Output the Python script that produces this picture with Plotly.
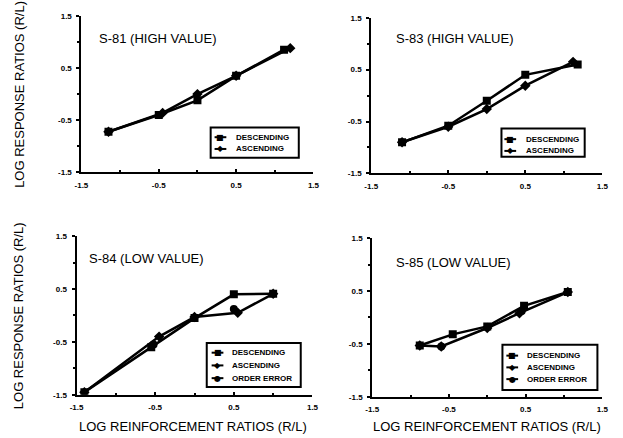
import plotly.graph_objects as go

W, H = 623, 438

tick_vals = [-1.5, -0.5, 0.5, 1.5]
tick_text = ["-1.5", "-0.5", "0.5", "1.5"]
minor_vals = [-1.0, 0.0, 1.0]

panel_titles = ["S-81 (HIGH VALUE)", "S-83 (HIGH VALUE)", "S-84 (LOW VALUE)", "S-85 (LOW VALUE)"]
series_names = ["DESCENDING", "ASCENDING", "ORDER ERROR"]

# S-81
s81_desc_x = [-1.15, -0.5, 0.0, 0.5, 1.12]
s81_desc_y = [-0.72, -0.40, -0.12, 0.35, 0.85]
s81_asc_x = [-1.15, -0.45, 0.0, 0.5, 1.20]
s81_asc_y = [-0.72, -0.36, 0.00, 0.35, 0.88]

# S-83
s83_desc_x = [-1.10, -0.5, 0.0, 0.5, 1.18]
s83_desc_y = [-0.90, -0.58, -0.10, 0.40, 0.60]
s83_asc_x = [-1.10, -0.5, 0.0, 0.5, 1.12]
s83_asc_y = [-0.90, -0.60, -0.26, 0.19, 0.65]

# S-84
s84_desc_x = [-1.40, -0.55, 0.0, 0.5, 1.0]
s84_desc_y = [-1.45, -0.60, -0.05, 0.40, 0.41]
s84_asc_x = [-1.40, -0.45, 0.0, 0.55, 1.0]
s84_asc_y = [-1.45, -0.40, -0.03, 0.05, 0.41]
s84_err_x = [-0.52, 0.50]
s84_err_y = [-0.55, 0.12]

# S-85
s85_desc_x = [-0.88, -0.45, 0.0, 0.48, 1.05]
s85_desc_y = [-0.53, -0.32, -0.17, 0.22, 0.48]
s85_asc_x = [-0.88, -0.60, 0.0, 0.42, 1.05]
s85_asc_y = [-0.53, -0.55, -0.20, 0.08, 0.48]
s85_err_x = [-0.60, 0.45]
s85_err_y = [-0.55, 0.12]

FONT = "Liberation Sans, Arial, sans-serif"

# panel placement in pixels: (x0, x1, ytop, ybottom)
px = [(76, 313, 12, 172), (372, 608, 14, 173), (71, 312, 237, 399), (373, 608, 239, 401)]
title_pos = [(92, 35), (395, 35), (82, 260), (395, 264)]
# legend box (x0, y0, x1, y1), symbol x, text x, item y's
legend_boxes = [
    ((208, 126, 298, 157), 218, 232, [136, 148]),
    ((505, 127, 590, 156), 514, 528, [138, 150]),
    ((204, 346, 300, 391), 215, 228, [356, 369, 382]),
    ((506, 348, 603, 394), 516, 529, [359, 371, 383]),
]

symbols = ["square", "diamond", "circle"]
glyphs = ["\u25A0", "\u25C6", "\u25CF"]

data = [
    [(s81_desc_x, s81_desc_y), (s81_asc_x, s81_asc_y)],
    [(s83_desc_x, s83_desc_y), (s83_asc_x, s83_asc_y)],
    [(s84_desc_x, s84_desc_y), (s84_asc_x, s84_asc_y), (s84_err_x, s84_err_y)],
    [(s85_desc_x, s85_desc_y), (s85_asc_x, s85_asc_y), (s85_err_x, s85_err_y)],
]

fig = go.Figure()

layout = dict(
    width=W, height=H, margin=dict(l=0, r=0, t=0, b=0),
    paper_bgcolor="white", plot_bgcolor="white",
    font=dict(family=FONT, color="black"),
    showlegend=False,
    annotations=[], shapes=[],
)

def fx(p):
    return p / W

def fy(p):
    return 1 - p / H

for i, series in enumerate(data):
    n = "" if i == 0 else str(i + 1)
    xa, ya = "x" + n, "y" + n
    for k, (x, y) in enumerate(series):
        fig.add_trace(go.Scatter(
            x=x, y=y, name=series_names[k],
            mode="markers" if k == 2 else "lines+markers",
            line=dict(color="black", width=2.5),
            marker=dict(symbol=symbols[k], size=8, color="black"),
            xaxis=xa, yaxis=ya,
        ))
    x0, x1, yt, yb = px[i]
    common = dict(
        range=[-1.5, 1.5], tickmode="array", tickvals=tick_vals, ticktext=tick_text,
        showline=True, linecolor="black", linewidth=2, showgrid=False, zeroline=False,
        tickwidth=1.5, tickcolor="black",
        tickfont=dict(size=8, family=FONT, weight="bold"),
    )
    layout["xaxis" + n] = dict(common, domain=[fx(x0), fx(x1)], anchor=ya,
                               ticks="inside", ticklen=3, ticklabelstandoff=4,
                               minor=dict(tickvals=minor_vals, ticks="inside", ticklen=2, tickcolor="black"))
    layout["yaxis" + n] = dict(common, domain=[fy(yb), fy(yt)], anchor=xa,
                               ticks="outside", ticklen=3, ticklabelstandoff=3,
                               minor=dict(tickvals=minor_vals, ticks="outside", ticklen=2, tickcolor="black"))
    # panel title
    tx, ty = title_pos[i]
    layout["annotations"].append(dict(
        text=panel_titles[i], xref="paper", yref="paper", x=fx(tx), y=fy(ty),
        xanchor="left", yanchor="middle", showarrow=False,
        font=dict(size=13, family=FONT),
    ))
    # legend
    (bx0, by0, bx1, by1), sx, txx, iys = legend_boxes[i]
    layout["shapes"].append(dict(
        type="rect", xref="paper", yref="paper", x0=fx(bx0), x1=fx(bx1), y0=fy(by1), y1=fy(by0),
        line=dict(color="black", width=2), fillcolor="white", layer="above",
    ))
    for k, iy in enumerate(iys):
        layout["shapes"].append(dict(
            type="line", xref="paper", yref="paper", x0=fx(sx - 6), x1=fx(sx + 6), y0=fy(iy), y1=fy(iy),
            line=dict(color="black", width=2), layer="above",
        ))
        layout["annotations"].append(dict(
            text=glyphs[k], xref="paper", yref="paper", x=fx(sx), y=fy(iy),
            xanchor="center", yanchor="middle", showarrow=False,
            font=dict(size=8, family="DejaVu Sans"),
        ))
        layout["annotations"].append(dict(
            text=series_names[k], xref="paper", yref="paper", x=fx(txx), y=fy(iy),
            xanchor="left", yanchor="middle", showarrow=False,
            font=dict(size=8, family=FONT, weight="bold"),
        ))

layout["annotations"] += [
    dict(text="LOG RESPONSE RATIOS (R/L)", xref="paper", yref="paper", x=fx(12), y=fy(92),
         xanchor="center", yanchor="middle", textangle=-90, showarrow=False, font=dict(size=13)),
    dict(text="LOG RESPONSE RATIOS (R/L)", xref="paper", yref="paper", x=fx(12), y=fy(318),
         xanchor="center", yanchor="middle", textangle=-90, showarrow=False, font=dict(size=13)),
    dict(text="LOG REINFORCEMENT RATIOS (R/L)", xref="paper", yref="paper", x=fx(190), y=fy(431),
         xanchor="center", yanchor="middle", showarrow=False, font=dict(size=13)),
    dict(text="LOG REINFORCEMENT RATIOS (R/L)", xref="paper", yref="paper", x=fx(490), y=fy(431),
         xanchor="center", yanchor="middle", showarrow=False, font=dict(size=13)),
]

fig.update_layout(**layout)
fig.write_html("out.html")
